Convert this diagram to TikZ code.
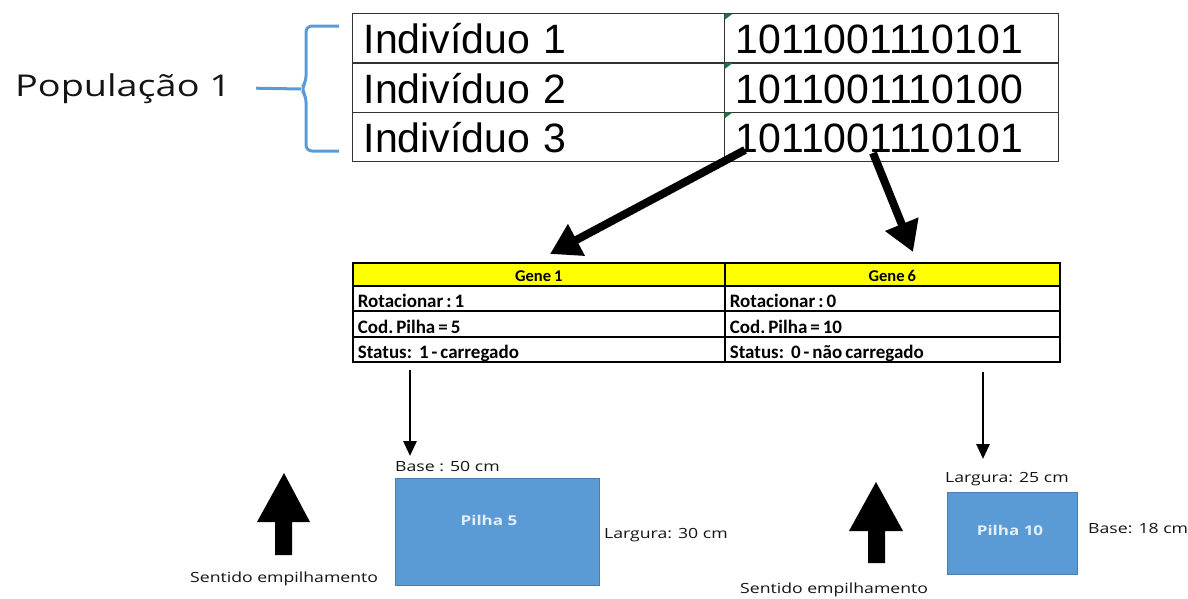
\documentclass[tikz,border=0pt]{standalone}
\usepackage{fontspec}
\setmainfont{Liberation Sans}
\newfontfamily\carl{Carlito}
\newfontfamily\opens{Open Sans}
\usetikzlibrary{arrows.meta,calc}
\definecolor{bracketblue}{HTML}{5B9BD5}
\definecolor{pilefill}{HTML}{5B9BD5}
\definecolor{pileedge}{HTML}{4A7FB0}
\definecolor{pilefont}{HTML}{E3EEF9}
\definecolor{xlgreen}{HTML}{217346}
\definecolor{geneyellow}{HTML}{FFFF00}
\definecolor{labelgray}{HTML}{141414}
\newcommand{\wide}[1]{\scalebox{1.26}[1]{#1}}
\newcommand{\gsp}{\hspace{3pt}}
\begin{document}
\begin{tikzpicture}[x=1pt,y=-1pt,
  tcell/.style={draw=black!80, line width=1.3pt, rectangle, anchor=north west,
    minimum height=49.3pt, inner xsep=11pt, inner ysep=0pt, align=left,
    text height=31pt, text depth=0pt, font=\fontsize{41}{45}\selectfont},
  gcell/.style={draw=black, line width=1.6pt, rectangle, anchor=north west,
    inner xsep=5pt, inner ysep=0pt, align=left, text height=18.6pt, text depth=0pt,
    minimum height=25.3pt, font=\carl\bfseries\fontsize{19}{21}\selectfont},
  ghead/.style={gcell, fill=geneyellow, align=center, minimum height=23pt,
    text height=13.5pt, font=\carl\bfseries\fontsize{16.5}{18}\selectfont},
  thickarrow/.style={line width=8pt, -{Triangle[length=30pt,width=34pt]}},
  thinarrow/.style={line width=2.8pt, -{Triangle[length=15pt,width=13pt]}},
  blockarrow/.style={fill=black},
  pilebox/.style={rectangle, fill=pilefill, draw=pileedge, line width=1pt, anchor=north west, inner sep=0pt},
  pilelabel/.style={text=pilefont, font=\opens\bfseries\fontsize{13.5}{15}\selectfont, inner sep=0pt},
  dimlabel/.style={text=labelgray, font=\opens\fontsize{14}{16}\selectfont, inner sep=0pt},
  excelmark/.style={fill=xlgreen}
]
\useasboundingbox (0,0) rectangle (1188,598);

% Population label and bracket
\node[anchor=base west, inner sep=0pt, text=labelgray, font=\opens\fontsize{30}{32}\selectfont] (pop) at (15,96) {\wide{População 1}};
\coordinate (brk) at (301,89);
\draw[bracketblue, line width=3pt] ($(pop.east)+(25,0)$ |- brk) -- (brk);
\draw[bracketblue, line width=3pt, rounded corners=6pt]
  (339,26) -- (306,26) -- (306,82) -- (brk) -- (306,96) -- (306,151) -- (339,151);

% Top table
\foreach \i/\y/\b in {1/13/1011001110101, 2/62.3/1011001110100, 3/111.6/1011001110101}{
  \node[tcell, minimum width=372pt, text width=350pt] (i\i) at (352,\y) {Indivíduo \i};
  \node[tcell, minimum width=334pt, text width=312pt, inner xsep=11pt] (b\i) at (724,\y) {\b};
  \fill[excelmark] ($(b\i.north west)+(0.7,0.7)$) -- ++(8,0) -- ++(-8,6) -- cycle;
}

% Gene table
\node[ghead, minimum width=372pt, text width=362pt] (gh1) at (352,262) {Gene\gsp 1};
\node[ghead, minimum width=335pt, text width=325pt] (gh6) at (724,262) {Gene\gsp 6};
\node[gcell, minimum width=372pt, text width=362pt] (r1) at (352,285) {Rotacionar\gsp:\gsp1};
\node[gcell, minimum width=335pt, text width=325pt] (r6) at (724,285) {Rotacionar\gsp:\gsp0};
\node[gcell, minimum width=372pt, text width=362pt] (c1) at (352,310.5) {Cod.\gsp Pilha\gsp=\gsp5};
\node[gcell, minimum width=335pt, text width=325pt] (c6) at (724,310.5) {Cod.\gsp Pilha\gsp=\gsp10};
\node[gcell, minimum width=372pt, text width=362pt] (s1) at (352,336) {Status:\hspace{7pt}1\gsp-\gsp carregado};
\node[gcell, minimum width=335pt, text width=325pt] (s6) at (724,336) {Status:\hspace{7pt}0\gsp-\gsp não\gsp carregado};

% thick arrows from individual 3 to genes
\coordinate (a1s) at (745,150);
\coordinate (a1e) at (550,254);
\coordinate (a2s) at (873,153);
\coordinate (a2e) at (913,252);
\draw[thickarrow] (a1s) -- (a1e);
\draw[thickarrow] (a2s) -- (a2e);

% thin arrows down to piles
\coordinate (d1s) at (410,370);
\coordinate (d1e) at (410,456);
\coordinate (d2s) at (983,372);
\coordinate (d2e) at (983,459);
\draw[thinarrow] (d1s) -- (d1e);
\draw[thinarrow] (d2s) -- (d2e);

% Pilha 5
\node[pilebox, minimum width=204pt, minimum height=107pt] (p5) at (395,478) {};
\node[pilelabel, anchor=base] (p5t) at (489,525) {\wide{Pilha 5}};
\node[dimlabel, anchor=base west] (b50) at (395,471) {\wide{Base : 50 cm}};
\node[dimlabel, anchor=base west] (l30) at (604,538) {\wide{Largura: 30 cm}};
\node[dimlabel, anchor=base west] (se1) at (190,582) {\wide{Sentido empilhamento}};
\fill[blockarrow] (257,522) -- (284,473) -- (310,522) -- (292,522) -- (292,555) -- (275,555) -- (275,522) -- cycle;

% Pilha 10
\node[pilebox, minimum width=130pt, minimum height=82pt] (p10) at (947,492) {};
\node[pilelabel, anchor=base] (p10t) at (1010,535) {\wide{Pilha 10}};
\node[dimlabel, anchor=base west] (l25) at (945,482) {\wide{Largura: 25 cm}};
\node[dimlabel, anchor=base west] (b18) at (1088,533) {\wide{Base: 18 cm}};
\node[dimlabel, anchor=base west] (se2) at (740,593) {\wide{Sentido empilhamento}};
\fill[blockarrow] (849,531) -- (876,482) -- (903,531) -- (885,531) -- (885,563) -- (868,563) -- (868,531) -- cycle;
\end{tikzpicture}
\end{document}
